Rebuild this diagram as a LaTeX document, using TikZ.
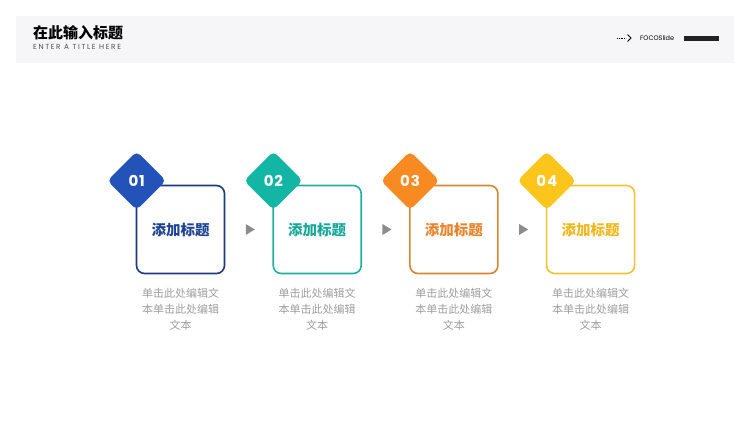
\documentclass[tikz,border=0pt]{standalone}
\usepackage{fontspec}
\setmainfont{Poppins}
\newfontfamily\cjk{Noto Sans CJK SC}
\usetikzlibrary{shapes.geometric,positioning}

\definecolor{headbg}{HTML}{F6F6F8}
\definecolor{barblack}{HTML}{222222}
\definecolor{arrowgray}{HTML}{8C8C8C}
\definecolor{descgray}{HTML}{9E9E9E}
\definecolor{blueA}{HTML}{2352B9}
\definecolor{blueB}{HTML}{1C3B7E}
\definecolor{blueC}{HTML}{1E4494}
\definecolor{tealA}{HTML}{13B5A5}
\definecolor{tealB}{HTML}{1FB0A0}
\definecolor{tealC}{HTML}{18A898}
\definecolor{orangeA}{HTML}{F78B22}
\definecolor{orangeB}{HTML}{DA8530}
\definecolor{orangeC}{HTML}{E8842C}
\definecolor{yellowA}{HTML}{FBC51C}
\definecolor{yellowB}{HTML}{F0C232}
\definecolor{yellowC}{HTML}{F0B81C}

\begin{document}
\begin{tikzpicture}[x=1pt,y=-1pt,node distance=136.7pt]
  \tikzstyle{card} = [rectangle, draw, line width=1.6pt, rounded corners=8pt, minimum width=88pt, minimum height=88pt, fill=white, font=\cjk\bfseries\fontsize{14.5}{14.5}\selectfont]
  \tikzstyle{badge} = [rectangle, rotate=45, rounded corners=5pt, minimum size=41.5pt, inner sep=0pt]
  \tikzstyle{num} = [text=white, font=\bfseries\fontsize{15}{15}\selectfont\addfontfeatures{LetterSpace=6}]
  \tikzstyle{desc} = [text=descgray, align=center, font=\cjk\fontsize{11}{16}\selectfont]
  \tikzstyle{tri} = [isosceles triangle, isosceles triangle stretches, fill=arrowgray, minimum width=11pt, minimum height=9pt, inner sep=0pt]

  \useasboundingbox (0,0) rectangle (750,422);

  % header
  \fill[headbg] (16,16) rectangle (734,63);
  \node[anchor=west, inner sep=0pt, font=\cjk\bfseries\fontsize{15}{15}\selectfont] (title) at (33,33) {在此输入标题};
  \node[anchor=west, inner sep=0pt, text=barblack!80, font=\fontsize{7.3}{7.3}\selectfont\addfontfeatures{LetterSpace=22}] (subtitle) at (33,47) {ENTER A TITLE HERE};
  \draw[densely dotted, line width=0.8pt] (617,38) -- (626,38);
  \draw[line width=0.8pt] (627.5,34.5) -- (631,38) -- (627.5,41.5);
  \node[anchor=west, inner sep=0pt, font=\fontsize{6.5}{6.5}\selectfont] (brand) at (640,38) {FOCOSlide};
  \fill[barblack] (684,36) rectangle (719,41);

  % cards
  \node[card, draw=blueB, text=blueC] (card1) at (180.5,229.5) {添加标题};
  \node[card, draw=tealB, text=tealC, right of=card1] (card2) {添加标题};
  \node[card, draw=orangeB, text=orangeC, right of=card2] (card3) {添加标题};
  \node[card, draw=yellowB, text=yellowC, right of=card3] (card4) {添加标题};

  % badges
  \node[badge, fill=blueA] (badge1) at ([shift={(1,-4)}]card1.north west) {};
  \node[badge, fill=tealA] (badge2) at ([shift={(1,-4)}]card2.north west) {};
  \node[badge, fill=orangeA] (badge3) at ([shift={(1,-4)}]card3.north west) {};
  \node[badge, fill=yellowA] (badge4) at ([shift={(1,-4)}]card4.north west) {};
  \node[num] at (badge1) {01};
  \node[num] at (badge2) {02};
  \node[num] at (badge3) {03};
  \node[num] at (badge4) {04};

  % arrows between cards
  \path (card1) -- node[tri] (tri1) {} (card2);
  \path (card2) -- node[tri] (tri2) {} (card3);
  \path (card3) -- node[tri] (tri3) {} (card4);

  % descriptions
  \node[desc, below=10pt of card1] (desc1) {单击此处编辑文\\本单击此处编辑\\文本};
  \node[desc, below=10pt of card2] (desc2) {单击此处编辑文\\本单击此处编辑\\文本};
  \node[desc, below=10pt of card3] (desc3) {单击此处编辑文\\本单击此处编辑\\文本};
  \node[desc, below=10pt of card4] (desc4) {单击此处编辑文\\本单击此处编辑\\文本};
\end{tikzpicture}
\end{document}
